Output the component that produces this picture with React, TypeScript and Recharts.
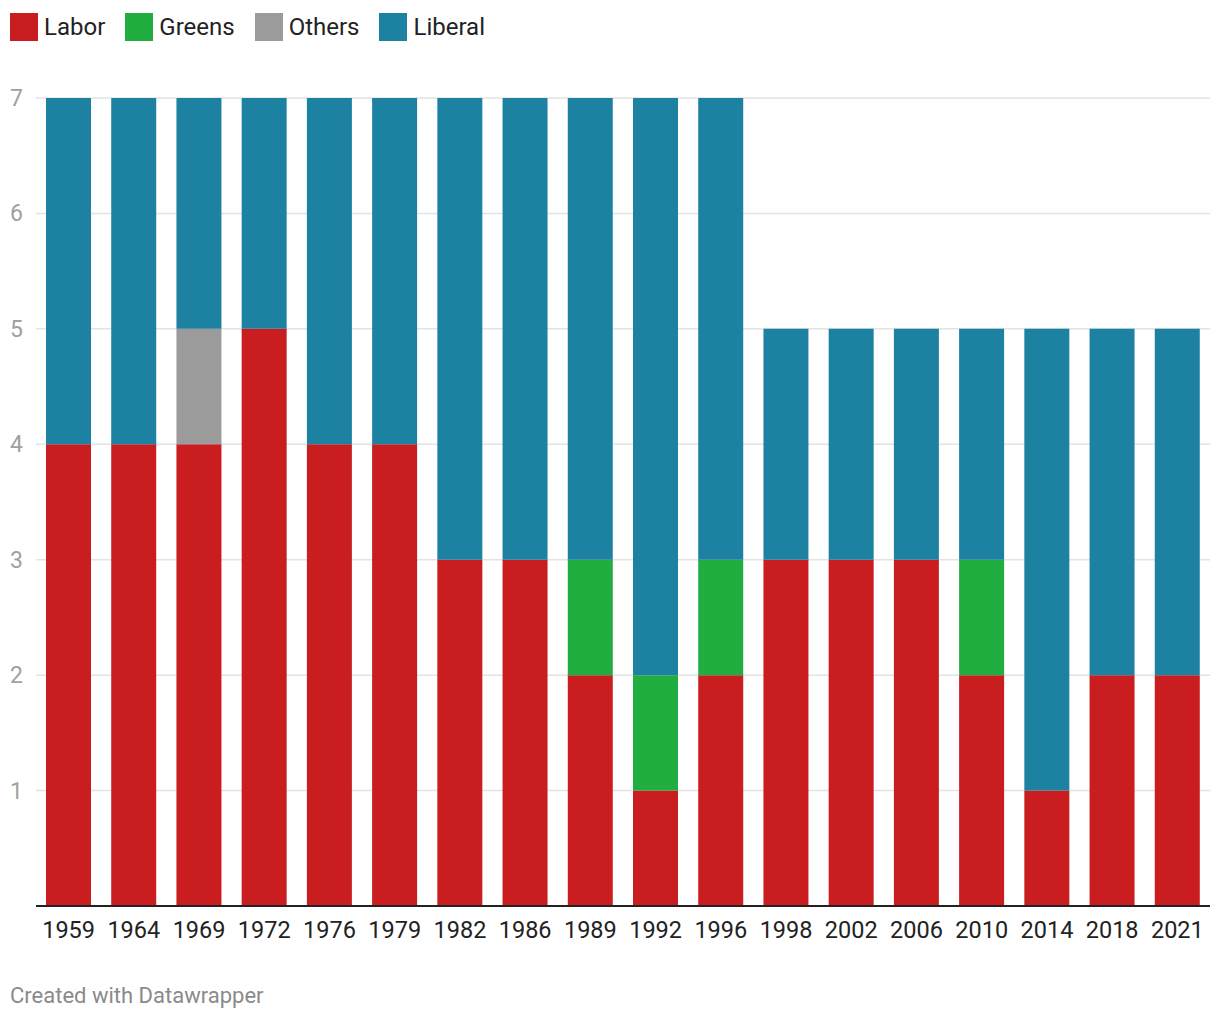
import React from 'react';
import { BarChart, Bar, XAxis, YAxis, CartesianGrid } from 'recharts';

// election years and seats per party
const years = ['1959', '1964', '1969', '1972', '1976', '1979', '1982', '1986', '1989', '1992', '1996', '1998', '2002', '2006', '2010', '2014', '2018', '2021'];
const labor = [4, 4, 4, 5, 4, 4, 3, 3, 2, 1, 2, 3, 3, 3, 2, 1, 2, 2];
const greens = [0, 0, 0, 0, 0, 0, 0, 0, 1, 1, 1, 0, 0, 0, 1, 0, 0, 0];
const others = [0, 0, 1, 0, 0, 0, 0, 0, 0, 0, 0, 0, 0, 0, 0, 0, 0, 0];
const liberal = [3, 3, 2, 2, 3, 3, 4, 4, 4, 5, 4, 2, 2, 2, 2, 4, 3, 3];
const yTicks = [0, 1, 2, 3, 4, 5, 6, 7];

const series = [
  { key: 'labor', name: 'Labor', color: '#c91d1f' },
  { key: 'greens', name: 'Greens', color: '#21ae40' },
  { key: 'others', name: 'Others', color: '#9b9b9b' },
  { key: 'liberal', name: 'Liberal', color: '#1d81a2' },
];

const data = years.map((year, i) => ({
  year,
  labor: labor[i],
  greens: greens[i],
  others: others[i],
  liberal: liberal[i],
}));

const FONT = 'Roboto, "Noto Sans", sans-serif';

const YTick = (props: any) => {
  const { y, payload } = props;
  if (payload.value === 0) return null;
  return (
    <text x={10} y={y} dy={8} textAnchor="start" fontSize={23} fill="#a0a0a0" fontFamily={FONT}>
      {payload.value}
    </text>
  );
};

const XTick = (props: any) => {
  const { x, y, payload } = props;
  return (
    <text x={x} y={y} dy={24} textAnchor="middle" fontSize={23.5} fill="#222" fontFamily={FONT}>
      {payload.value}
    </text>
  );
};

export default function App() {
  return (
    <div style={{ position: 'relative', width: 1220, height: 1020, margin: -8, background: '#fff', fontFamily: FONT }}>
      {/* legend */}
      <div style={{ position: 'absolute', left: 10, top: 13, display: 'flex', alignItems: 'center' }}>
        {series.map((s) => (
          <div key={s.key} style={{ display: 'flex', alignItems: 'center', marginRight: 20 }}>
            <div style={{ width: 28, height: 28, background: s.color, marginRight: 6 }} />
            <span style={{ fontSize: 24, color: '#222', lineHeight: '26px' }}>{s.name}</span>
          </div>
        ))}
      </div>

      <div style={{ position: 'absolute', left: 0, top: 0 }}>
        <BarChart
          width={1220}
          height={960}
          data={data}
          margin={{ top: 98, right: 10, left: 0, bottom: 0 }}
          barSize={45}
        >
          <CartesianGrid vertical={false} stroke="#e3e3e3" strokeWidth={1.5} />
          <XAxis
            dataKey="year"
            height={54}
            tick={<XTick />}
            tickLine={false}
            axisLine={{ stroke: '#222', strokeWidth: 2 }}
            interval={0}
          />
          <YAxis
            width={36}
            domain={[0, 7]}
            ticks={yTicks}
            tick={<YTick />}
            tickLine={false}
            axisLine={false}
          />
          {series.map((s) => (
            <Bar key={s.key} dataKey={s.key} name={s.name} stackId="seats" fill={s.color} isAnimationActive={false} />
          ))}
        </BarChart>
      </div>

      <div style={{ position: 'absolute', left: 10, top: 983, fontSize: 22, color: '#8a8a8a' }}>
        Created with Datawrapper
      </div>
    </div>
  );
}
